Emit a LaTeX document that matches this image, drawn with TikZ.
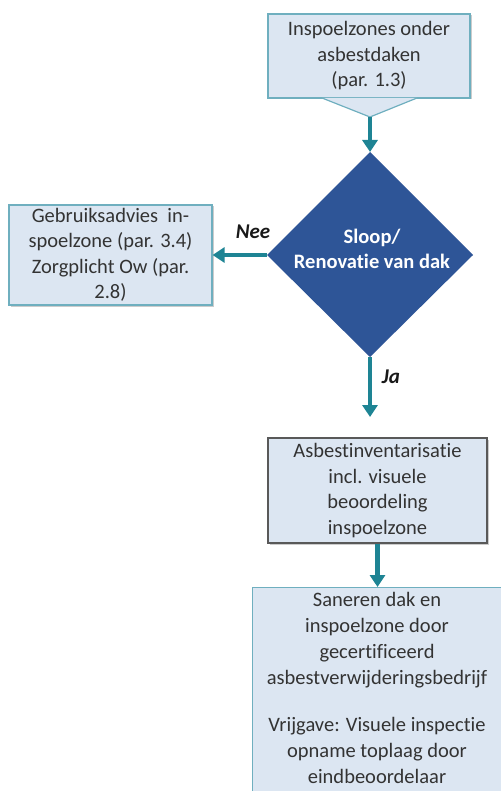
\documentclass[tikz,border=0pt]{standalone}
\usepackage{fontspec}
\setmainfont{Carlito}[Ligatures=NoCommon]
\usetikzlibrary{shapes.geometric,arrows.meta,shadows}
\definecolor{boxfill}{HTML}{DCE6F2}
\definecolor{boxline}{HTML}{6FAFBF}
\definecolor{darkline}{HTML}{595959}
\definecolor{teal}{HTML}{1E8494}
\definecolor{diamondblue}{HTML}{2E5597}
\tikzset{
  txt/.style={font=\fontsize{20.5}{25.5}\selectfont, align=center, text=black!80},
  lbox/.style={draw=boxline, fill=boxfill, line width=1.2pt, txt, inner sep=0pt,
    drop shadow={shadow xshift=1.5pt, shadow yshift=-1.5pt, fill=black!40}},
  flow/.style={teal, line width=4.5pt, -{Triangle[length=12pt,width=15pt]}},
  yn/.style={font=\fontsize{21}{24}\selectfont\bfseries\itshape, text=black!90}
}
\begin{document}
\begin{tikzpicture}[x=1pt,y=-1pt]
\useasboundingbox (0,0) rectangle (500,791);
% top callout
\node[lbox, minimum width=202pt, minimum height=84pt] (top) at (369,56)
  {Inspoelzones onder\\asbestdaken\\(par. 1.3)};
\coordinate (pl) at (322,98);
\coordinate (pr) at (417,98);
\coordinate (tip) at (370,117);
\fill[boxfill] (pl) -- (tip) -- (pr) -- cycle;
\draw[boxline, line width=1.2pt] (pl) -- (tip) -- (pr);
% diamond
\coordinate (dtop) at (370,152);
\coordinate (dleft) at (267,255);
\coordinate (dright) at (473,255);
\coordinate (dbot) at (370,357);
\fill[diamondblue] (dtop) -- (dright) -- (dbot) -- (dleft) -- cycle;
\node[font=\fontsize{20.5}{25}\selectfont\bfseries, text=white, align=center] (dec) at (372,249)
  {Sloop/\\Renovatie van dak};
\draw[flow] (tip) -- (dtop);
% left box
\node[lbox, minimum width=203pt, minimum height=100pt] (left) at (110.5,255)
  {Gebruiksadvies \ in-\\spoelzone (par. 3.4)\\Zorgplicht Ow (par.\\2.8)};
\draw[flow] (dleft) -- (left.east);
\node[yn] (nee) at (253,232) {Nee};
% Ja
\coordinate (jaend) at (370,417);
\draw[flow] (dbot) -- (jaend);
\node[yn] (ja) at (391,377) {Ja};
% asbest box
\node[lbox, draw=darkline, minimum width=219pt, minimum height=105pt] (asb) at (377.5,490.5)
  {Asbestinventarisatie\\incl. visuele\\beoordeling\\inspoelzone};
% bottom box
\node[lbox, minimum width=250pt, minimum height=215pt, anchor=north west] (san) at (252,587) {};
\node[txt, font=\fontsize{20.5}{26}\selectfont, anchor=north] (santxt) at (377,589)
  {Saneren dak en\\inspoelzone door\\gecertificeerd\\asbestverwijderingsbedrijf\\[21pt]Vrijgave: Visuele inspectie\\opname toplaag door\\eindbeoordelaar};
\draw[flow] (asb.south) -- (san.north -| asb.south);
\end{tikzpicture}
\end{document}
